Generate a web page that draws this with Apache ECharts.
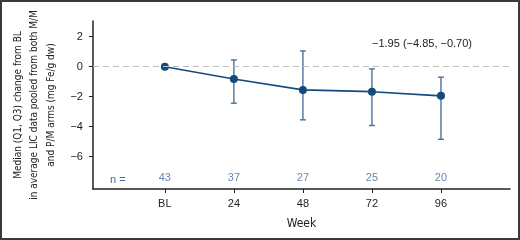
<!DOCTYPE html>
<html>
<head>
<meta charset="utf-8">
<script src="https://cdn.jsdelivr.net/npm/echarts@6/dist/echarts.min.js"></script>
<style>
  html, body { margin: 0; padding: 0; background: #fff; }
  #main { width: 520px; height: 240px; box-sizing: border-box; border: 2px solid #3a3a3a; }
</style>
</head>
<body>
<div id="main"></div>
<script>
var weeks = [0, 24, 48, 72, 96];          // BL = week 0
var weekLabels = ['BL', '24', '48', '72', '96'];
var medians = [0, -0.82, -1.55, -1.67, -1.95];
var q1 = [null, -2.44, -3.55, -3.93, -4.85];
var q3 = [null, 0.45, 1.05, -0.15, -0.70];
var nCounts = [43, 37, 27, 25, 20];
var yTicks = [-6, -4, -2, 0, 2];

var lineColor = '#154a7e';
var barColor = '#4d7198';
var nColor = '#3a6a9c';
var nRowY = -7.42;
var narrow = '"DejaVu Sans Condensed", "Liberation Sans Narrow", sans-serif';
var plain = '"Liberation Sans", Arial, sans-serif';

var lineData = weeks.map(function (w, i) { return [w, medians[i]]; });
var errData = [];
weeks.forEach(function (w, i) {
    if (q1[i] != null) errData.push([w, q1[i], q3[i]]);
});
var nData = weeks.map(function (w, i) { return [w, nRowY, nCounts[i]]; });

var myChart = echarts.init(document.getElementById('main'));
var option = {
    animation: false,
    grid: { left: 84, right: 8, top: 19, bottom: 49 },
    xAxis: {
        type: 'value',
        min: -25,
        max: 120,
        name: 'Week',
        nameLocation: 'middle',
        nameGap: 29,
        nameTextStyle: { fontFamily: narrow, fontSize: 12, color: '#222' },
        splitLine: { show: false },
        axisLine: { onZero: false, lineStyle: { color: '#222', width: 1.5 } },
        axisTick: { customValues: weeks, length: 4, lineStyle: { color: '#222' } },
        axisLabel: {
            customValues: weeks,
            margin: 9,
            fontFamily: plain,
            fontSize: 11,
            color: '#222',
            formatter: function (v) { return weekLabels[weeks.indexOf(v)]; }
        }
    },
    yAxis: {
        type: 'value',
        min: -8.17,
        max: 3.05,
        name: 'Median (Q1, Q3) change from BL\nin average LIC data pooled from both M/M\nand P/M arms (mg Fe/g dw)',
        nameLocation: 'middle',
        nameRotate: 90,
        nameGap: 29,
        nameTextStyle: {
            fontFamily: narrow,
            fontSize: 10,
            lineHeight: 16.5,
            color: '#222'
        },
        splitLine: { show: false },
        axisLine: { show: true, onZero: false, lineStyle: { color: '#222', width: 1.5 } },
        axisTick: { show: true, customValues: yTicks, length: 4, lineStyle: { color: '#222' } },
        axisLabel: {
            customValues: yTicks,
            margin: 10,
            fontFamily: plain,
            fontSize: 11,
            color: '#222',
            formatter: function (v) { return v < 0 ? '\u2212' + Math.abs(v) : String(v); }
        }
    },
    graphic: [
        {
            type: 'text', left: 370, top: 36,
            style: { text: '\u22121.95 (\u22124.85, \u22120.70)', font: '11px ' + plain, fill: '#222' }
        },
        {
            type: 'text', left: 108, top: 172,
            style: { text: 'n =', font: '11px ' + plain, fill: nColor }
        }
    ],
    series: [
        {
            type: 'line',
            data: [],
            silent: true,
            markLine: {
                symbol: 'none',
                silent: true,
                label: { show: false },
                lineStyle: { color: '#bdbdbd', type: [6, 4], width: 1.2 },
                data: [{ yAxis: 0 }]
            }
        },
        {
            type: 'custom',
            data: errData,
            z: 2,
            renderItem: function (params, api) {
                var x = api.value(0);
                var lo = api.coord([x, api.value(1)]);
                var hi = api.coord([x, api.value(2)]);
                var cw = 3;
                var st = { stroke: barColor, lineWidth: 1.4 };
                return {
                    type: 'group',
                    children: [
                        { type: 'line', shape: { x1: lo[0], y1: lo[1], x2: hi[0], y2: hi[1] }, style: st },
                        { type: 'line', shape: { x1: lo[0] - cw, y1: lo[1], x2: lo[0] + cw, y2: lo[1] }, style: st },
                        { type: 'line', shape: { x1: hi[0] - cw, y1: hi[1], x2: hi[0] + cw, y2: hi[1] }, style: st }
                    ]
                };
            }
        },
        {
            type: 'line',
            data: lineData,
            z: 3,
            symbol: 'circle',
            symbolSize: 8,
            lineStyle: { color: lineColor, width: 1.6 },
            itemStyle: { color: lineColor }
        },
        {
            type: 'scatter',
            data: nData,
            symbolSize: 0,
            label: {
                show: true,
                position: 'inside',
                formatter: function (p) { return p.value[2]; },
                fontFamily: plain,
                fontSize: 11,
                color: nColor
            }
        }
    ]
};
myChart.setOption(option);
</script>
</body>
</html>
